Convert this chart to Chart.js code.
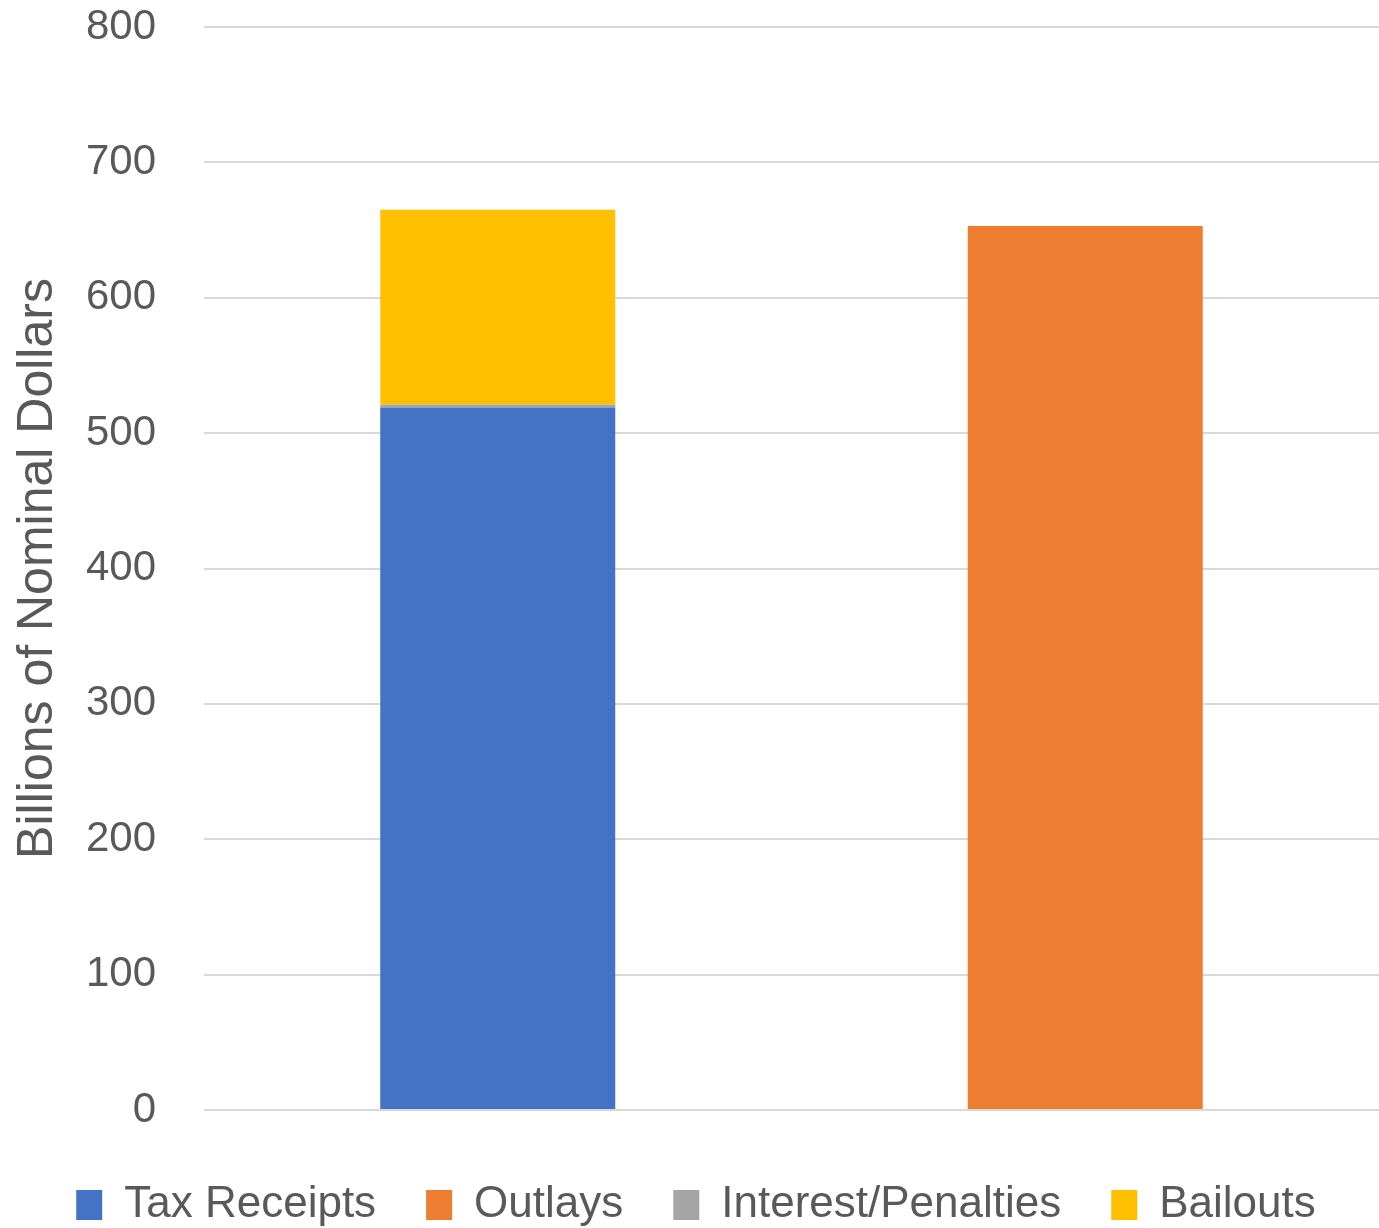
<!DOCTYPE html>
<html>
<head>
<meta charset="utf-8">
<script src="https://cdn.jsdelivr.net/npm/chart.js@4"></script>
<style>
html,body{margin:0;padding:0;background:#fff;}
#wrap{width:1379px;height:1228px;}
</style>
</head>
<body>
<div id="wrap"><canvas id="c" width="1379" height="1228"></canvas></div>
<script>
const categories = ["Receipts", "Outlays"];
const taxReceipts = [519, null];
const outlays = [null, 653];
const interestPenalties = [2, null];
const bailouts = [144, null];
const yTicks = [0, 100, 200, 300, 400, 500, 600, 700, 800];

const FONT = "'Liberation Sans', Arial, sans-serif";

new Chart(document.getElementById('c'), {
  type: 'bar',
  data: {
    labels: categories,
    datasets: [
      {label: 'Tax Receipts', data: taxReceipts, backgroundColor: '#4472C4'},
      {label: 'Outlays', data: outlays, backgroundColor: '#ED7D31'},
      {label: 'Interest/Penalties', data: interestPenalties, backgroundColor: '#A5A5A5'},
      {label: 'Bailouts', data: bailouts, backgroundColor: '#FFC000'}
    ]
  },
  options: {
    responsive: false,
    animation: false,
    devicePixelRatio: 1,
    layout: {padding: {top: 27, right: -5, left: 8, bottom: -9}},
    datasets: {bar: {barPercentage: 0.4, categoryPercentage: 1.0, borderWidth: 0}},
    scales: {
      x: {
        stacked: true,
        display: true,
        ticks: {display: false},
        grid: {display: false},
        border: {display: false},
        afterFit: (s) => { s.height = 23; }
      },
      y: {
        stacked: true,
        min: 0, max: 800,
        afterBuildTicks: (s) => { s.ticks = yTicks.map(v => ({value: v})); },
        border: {display: false},
        grid: {color: '#d9d9d9', lineWidth: 2, drawTicks: false},
        ticks: {color: '#595959', font: {family: FONT, size: 42}, padding: 48},
        title: {display: true, text: 'Billions of Nominal Dollars', color: '#595959', font: {family: FONT, size: 50}, padding: {top: 0, bottom: 2}},
        afterFit: (s) => { s.width = 196; s.paddingTop = 0; }
      }
    },
    plugins: {
      legend: {
        position: 'bottom',
        labels: {
          color: '#595959',
          font: {family: FONT, size: 44},
          boxWidth: 26,
          boxHeight: 30,
          padding: 50
        }
      },
      tooltip: {enabled: false}
    }
  }
});
</script>
</body>
</html>
